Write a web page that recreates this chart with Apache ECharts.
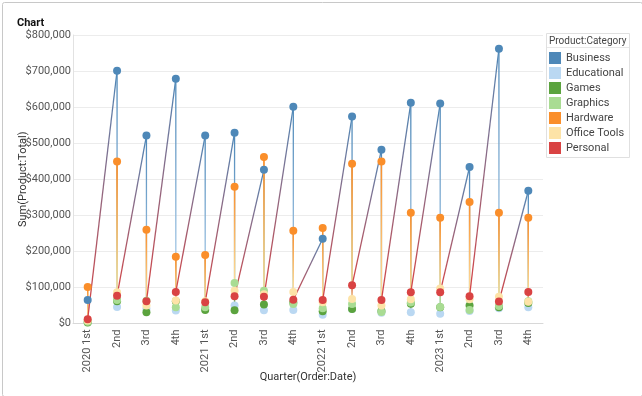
<!DOCTYPE html>
<html>
<head>
<meta charset="utf-8">
<script src="https://cdn.jsdelivr.net/npm/echarts@6/dist/echarts.min.js"></script>
<style>
html,body{margin:0;padding:0;background:#fff;}
#main{width:642px;height:396px;}
</style>
</head>
<body>
<div id="main"></div>
<script>
const quarters = ['2020 1st','2nd','3rd','4th','2021 1st','2nd','3rd','4th','2022 1st','2nd','3rd','4th','2023 1st','2nd','3rd','4th'];
const categories = ['Business','Educational','Games','Graphics','Hardware','Office Tools','Personal'];
const colors = ['#4E88B8','#BAD8F2','#5BA33E','#A9DC93','#FA8E2A','#FDE3A7','#D94343'];

const business    = [65000,701000,521000,679000,521000,529000,426000,601000,235000,574000,482000,612000,610000,434000,762000,368000];
const educational = [4000,46000,41000,36000,40000,50000,37000,37500,24000,40000,30000,31000,27000,35000,42000,45000];
const games       = [3000,62000,31000,62000,37500,37000,53000,58000,34000,40000,35000,55000,45000,50000,45000,57000];
const graphics    = [5000,65000,63000,45000,45000,112000,91000,54000,42000,54000,32000,58000,46000,37500,48600,62000];
const hardware    = [101000,449000,260000,185000,190000,379000,462000,257000,265000,443000,449000,307000,293000,337000,307000,293000];
const officeTools = [8000,87000,50000,64000,62000,91000,81000,87500,59000,68000,50000,67000,97000,67000,74000,60000];
const personal    = [12000,77000,62000,87500,59000,75500,74000,66000,65000,106000,65000,87000,87000,75500,61000,87500];

const seriesValues = [business, educational, games, graphics, hardware, officeTools, personal];
const yTicks = [0,100000,200000,300000,400000,500000,600000,700000,800000];

// path segments: within quarter in category order, then Personal -> next Business
const segments = [];
for (let q = 0; q < quarters.length; q++) {
  for (let c = 0; c < categories.length - 1; c++) {
    segments.push([q, seriesValues[c][q], q, seriesValues[c+1][q], c, c+1]);
  }
  if (q < quarters.length - 1) {
    segments.push([q, seriesValues[6][q], q+1, seriesValues[0][q+1], 6, 0]);
  }
}

const chart = echarts.init(document.getElementById('main'), null, {renderer:'canvas'});
const fontFamily = 'Roboto, "Noto Sans", sans-serif';

const series = [{
  type: 'custom',
  name: 'path',
  data: segments,
  encode: {x: [0,2], y: [1,3]},
  z: 1,
  silent: true,
  renderItem: function (params, api) {
    const p1 = api.coord([api.value(0), api.value(1)]);
    const p2 = api.coord([api.value(2), api.value(3)]);
    const c1 = colors[api.value(4)], c2 = colors[api.value(5)];
    let stroke;
    if (Math.abs(p1[0]-p2[0]) < 0.01 && Math.abs(p1[1]-p2[1]) < 0.01) {
      stroke = c1;
    } else {
      stroke = new echarts.graphic.LinearGradient(p1[0], p1[1], p2[0], p2[1], [
        {offset: 0, color: c1}, {offset: 1, color: c2}
      ], true);
    }
    return {
      type: 'line',
      shape: {x1: p1[0], y1: p1[1], x2: p2[0], y2: p2[1]},
      style: {stroke: stroke, lineWidth: 1.3}
    };
  }
}];

categories.forEach(function (name, i) {
  series.push({
    type: 'scatter',
    name: name,
    data: seriesValues[i],
    symbol: 'circle',
    symbolSize: 8,
    itemStyle: {color: colors[i], opacity: 1},
    z: 2 + i
  });
});

chart.setOption({
  animation: false,
  color: colors,
  textStyle: {fontFamily: fontFamily},
  title: {
    text: 'Chart', left: 12, top: 13,
    textStyle: {fontSize: 11, fontWeight: 'bold', color: '#111', fontFamily: fontFamily}
  },
  grid: {left: 73, right: 99, top: 35, bottom: 72.5, containLabel: false, outerBoundsMode: 'none'},
  legend: {
    orient: 'vertical', left: 549, top: 52, padding: 0,
    itemWidth: 12, itemHeight: 12, itemGap: 3,
    icon: 'rect',
    data: categories,
    textStyle: {fontSize: 11, color: '#444', fontFamily: fontFamily},
    selectedMode: false
  },
  xAxis: {
    type: 'category',
    data: quarters,
    boundaryGap: true,
    name: 'Quarter(Order:Date)',
    nameLocation: 'middle',
    nameGap: 48,
    nameMoveOverlap: false,
    nameTextStyle: {fontSize: 11, color: '#333', fontFamily: fontFamily},
    axisLine: {show: true, lineStyle: {color: '#d8d8d8'}},
    axisTick: {show: false},
    axisLabel: {rotate: 90, fontSize: 11, color: '#555', margin: 6, interval: 0, fontFamily: fontFamily},
    splitLine: {show: false}
  },
  yAxis: {
    type: 'value',
    min: 0, max: 800000, interval: 100000,
    name: 'Sum(Product:Total)',
    nameLocation: 'middle',
    nameGap: 44,
    nameMoveOverlap: false,
    nameRotate: 90,
    nameTextStyle: {fontSize: 11, color: '#333', fontFamily: fontFamily},
    axisLine: {show: true, lineStyle: {color: '#e2e2e2'}},
    axisTick: {show: false},
    axisLabel: {
      fontSize: 11, color: '#555', margin: 2, fontFamily: fontFamily,
      formatter: function (v) { return yTicks.indexOf(v) >= 0 ? '$' + v.toLocaleString('en-US') : ''; }
    },
    splitLine: {show: true, lineStyle: {color: '#ececec'}}
  },
  graphic: [
    {type: 'rect', left: 0, top: 0, z: -1, silent: true,
     shape: {x: 0.5, y: 0.5, width: 640, height: 394, r: 2},
     style: {fill: 'none', stroke: '#c8c8c8', lineWidth: 1}},
    {type: 'rect', z: 0, silent: true,
     shape: {x: 546.5, y: 33.5, width: 83, height: 124},
     style: {fill: '#fff', stroke: '#e0e0e0', lineWidth: 1}},
    {type: 'line', z: 1, silent: true,
     shape: {x1: 547, y1: 47.5, x2: 629, y2: 47.5},
     style: {stroke: '#e8e8e8', lineWidth: 1}},
    {type: 'text', z: 1, silent: true, x: 549, y: 36,
     style: {text: 'Product:Category', fontSize: 10, fill: '#444', fontFamily: fontFamily}}
  ],
  series: series
});
</script>
</body>
</html>
